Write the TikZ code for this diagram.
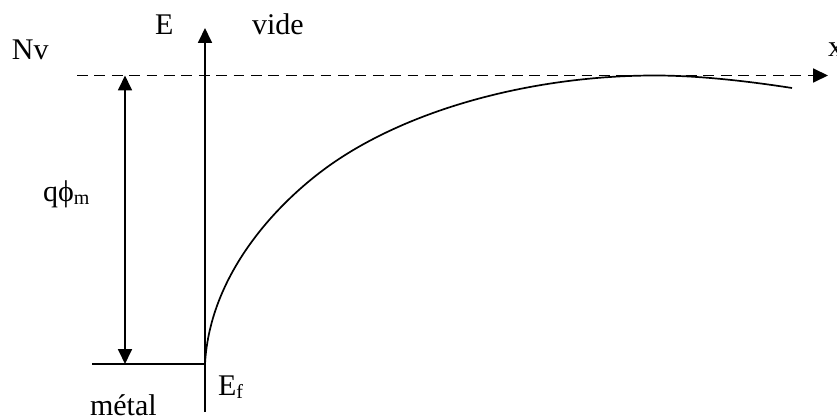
\documentclass[tikz,border=0pt]{standalone}
\usepackage{fontspec}
\setmainfont{Liberation Serif}
\usetikzlibrary{arrows.meta}
\tikzset{
  line/.style={line width=1.8pt, black},
  tip/.style={-{Triangle[length=15pt,width=14pt]}},
  lbl/.style={anchor=base west, inner sep=0pt, outer sep=0pt, font=\fontsize{30}{36}\selectfont},
}
\newcommand{\subsc}[1]{\raisebox{-3pt}{\fontsize{20}{24}\selectfont #1}}
\begin{document}
\begin{tikzpicture}[x=1pt,y=-1pt]
\useasboundingbox (0,0) rectangle (837,419);
% coordinates
\coordinate (dashL) at (77,75.5);
\coordinate (dashR) at (828,75.5);
\coordinate (axB) at (205,412);
\coordinate (axT) at (205,28);
\coordinate (qT) at (125,75.5);
\coordinate (qB) at (125,364);
\coordinate (mL) at (92,364);
\coordinate (mR) at (205,364);
\coordinate (c1) at (333,163);
\coordinate (c2) at (655,75.5);
\coordinate (c3) at (792,88);
% vacuum level (dashed) and x axis
\draw[line, tip, dash pattern=on 10.7pt off 6.7pt] (dashL) -- (dashR);
% energy axis
\draw[line, tip] (axB) -- (axT);
% metal Fermi level
\draw[line] (mL) -- (mR);
% work function arrow
\draw[line, {Triangle[length=15pt,width=14pt]}-{Triangle[length=15pt,width=14pt]}] (qT) -- (qB);
% potential curve
\draw[line, line width=1.7pt]
  (mR) .. controls (210,270) and (283,197.5) .. (c1)
       .. controls (413,107.8) and (535,75.5) .. (c2)
       .. controls (700,75.5) and (750,81.5) .. (c3);
% labels
\node[lbl] (Nv) at (12,60) {Nv};
\node[lbl] (E) at (155,35) {E};
\node[lbl] (vide) at (252,35) {vide};
\node[lbl] (xl) at (828,57) {x};
\node[lbl] (q) at (43,202) {qϕ\subsc{m}};
\node[lbl] (Ef) at (218,395) {E\subsc{f}};
\node[lbl] (metal) at (90,415) {métal};
\end{tikzpicture}
\end{document}
